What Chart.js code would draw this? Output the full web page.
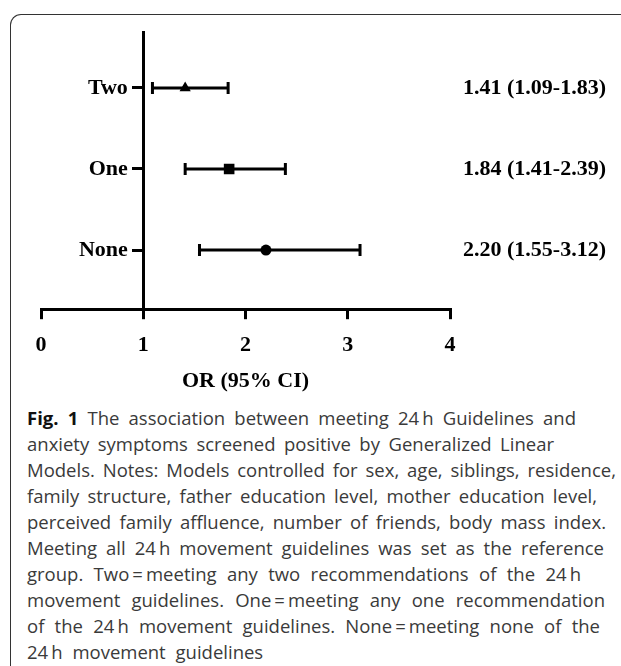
<!DOCTYPE html>
<html><head><meta charset="utf-8">
<script src="https://cdn.jsdelivr.net/npm/chart.js@4"></script>
<style>
html,body{margin:0;padding:0;background:#fff;width:621px;height:666px;overflow:hidden;}
#frame{position:absolute;left:10px;top:14px;width:700px;height:660px;border-top:1.5px solid #333;border-left:1.5px solid #333;border-top-left-radius:11px;border-bottom-left-radius:6px;box-sizing:border-box;}
#wrap{position:absolute;left:0;top:0;width:621px;height:399px;}
#cap{position:absolute;left:27px;top:405px;font-family:"Open Sans",sans-serif;font-size:18.5px;line-height:26px;color:#3a3a3a;word-spacing:2px;}
#cap div{white-space:nowrap;text-align:justify;text-align-last:justify;}
#cap div.last{text-align-last:left;word-spacing:5px;}
#cap b{color:#111;}
</style></head>
<body>
<div id="frame"></div>
<div id="wrap"><canvas id="c" width="621" height="399"></canvas></div>
<div id="cap"></div>
<script>
const categories = ['None', 'One', 'Two'];
const positions = [1, 2, 3];
const orValues = [2.20, 1.84, 1.41];
const ciLow = [1.55, 1.41, 1.09];
const ciHigh = [3.12, 2.39, 1.83];
const orLabels = ['2.20 (1.55-3.12)', '1.84 (1.41-2.39)', '1.41 (1.09-1.83)'];
const xTicks = [0, 1, 2, 3, 4];
const markerStyles = ['circle', 'rect', 'triangle'];
const axisTitle = 'OR (95% CI)';
const captionLines = [
  '<b>Fig. 1</b> The association between meeting 24\u2009h Guidelines and',
  'anxiety symptoms screened positive by Generalized Linear',
  'Models. Notes: Models controlled for sex, age, siblings, residence,',
  'family structure, father education level, mother education level,',
  'perceived family affluence, number of friends, body mass index.',
  'Meeting all 24\u2009h movement guidelines was set as the reference',
  'group. Two\u2009=\u2009meeting any two recommendations of the 24\u2009h',
  'movement guidelines. One\u2009=\u2009meeting any one recommendation',
  'of the 24\u2009h movement guidelines. None\u2009=\u2009meeting none of the',
  '24\u2009h movement guidelines'
];
const captionWidths = [549, 527, 589, 570, 579, 577, 554, 578, 573, 0];

const cap = document.getElementById('cap');
captionLines.forEach((t, i) => {
  const d = document.createElement('div');
  d.innerHTML = t;
  if (captionWidths[i]) d.style.width = captionWidths[i] + 'px'; else d.className = 'last';
  cap.appendChild(d);
});

const serif = "'Liberation Serif','Times New Roman',serif";
const boldFont = {family: serif, size: 22, weight: 'bold'};

const errorBars = {
  id: 'errorBars',
  beforeDatasetsDraw(chart) {
    const {ctx, scales: {x, y}} = chart;
    ctx.save();
    ctx.strokeStyle = '#000';
    ctx.lineWidth = 3;
    positions.forEach((p, i) => {
      const py = y.getPixelForValue(p);
      const x1 = x.getPixelForValue(ciLow[i]);
      const x2 = x.getPixelForValue(ciHigh[i]);
      ctx.beginPath();
      ctx.moveTo(x1, py); ctx.lineTo(x2, py);
      ctx.moveTo(x1, py - 6); ctx.lineTo(x1, py + 6);
      ctx.moveTo(x2, py - 6); ctx.lineTo(x2, py + 6);
      ctx.stroke();
    });
    ctx.restore();
  },
  afterDraw(chart) {
    const {ctx, chartArea, scales: {y}} = chart;
    ctx.save();
    ctx.fillStyle = '#000';
    ctx.font = 'bold 22px ' + serif;
    ctx.textAlign = 'left';
    ctx.textBaseline = 'middle';
    positions.forEach((p, i) => {
      ctx.fillText(orLabels[i], chartArea.right + 13, y.getPixelForValue(p));
    });
    ctx.restore();
  }
};

new Chart(document.getElementById('c'), {
  type: 'scatter',
  data: {
    datasets: [{
      data: orValues.map((v, i) => ({x: v, y: positions[i]})),
      pointStyle: markerStyles,
      pointRadius: [5.5, 7.5, 6.5],
      pointHoverRadius: [5.5, 7.5, 6.5],
      backgroundColor: '#000',
      borderColor: '#000',
      borderWidth: 0
    }]
  },
  options: {
    responsive: false,
    animation: false,
    events: [],
    layout: {padding: {left: 41, right: 171, top: 32, bottom: 0}},
    plugins: {legend: {display: false}, tooltip: {enabled: false}},
    scales: {
      x: {
        type: 'linear', min: 0, max: 4,
        afterBuildTicks: s => { s.ticks = xTicks.map(v => ({value: v})); },
        grid: {drawOnChartArea: false, drawTicks: true, tickLength: 10, lineWidth: 3, color: '#000'},
        border: {display: true, width: 3, color: '#000'},
        ticks: {color: '#000', font: boldFont, padding: 13},
        title: {display: true, text: axisTitle, color: '#000', font: boldFont, padding: {top: -3, bottom: 4}}
      },
      y: {
        type: 'linear', min: 0.27, max: 3.69, position: {x: 1},
        afterBuildTicks: s => { s.ticks = positions.map(v => ({value: v})); },
        grid: {drawOnChartArea: false, drawTicks: true, tickLength: 10, lineWidth: 3, color: '#000'},
        border: {display: true, width: 3, color: '#000'},
        ticks: {color: '#000', font: boldFont, padding: 0,
          callback: v => categories[positions.indexOf(v)] + '\u2002\u2009'}
      }
    }
  },
  plugins: [errorBars]
});
</script>
</body></html>
